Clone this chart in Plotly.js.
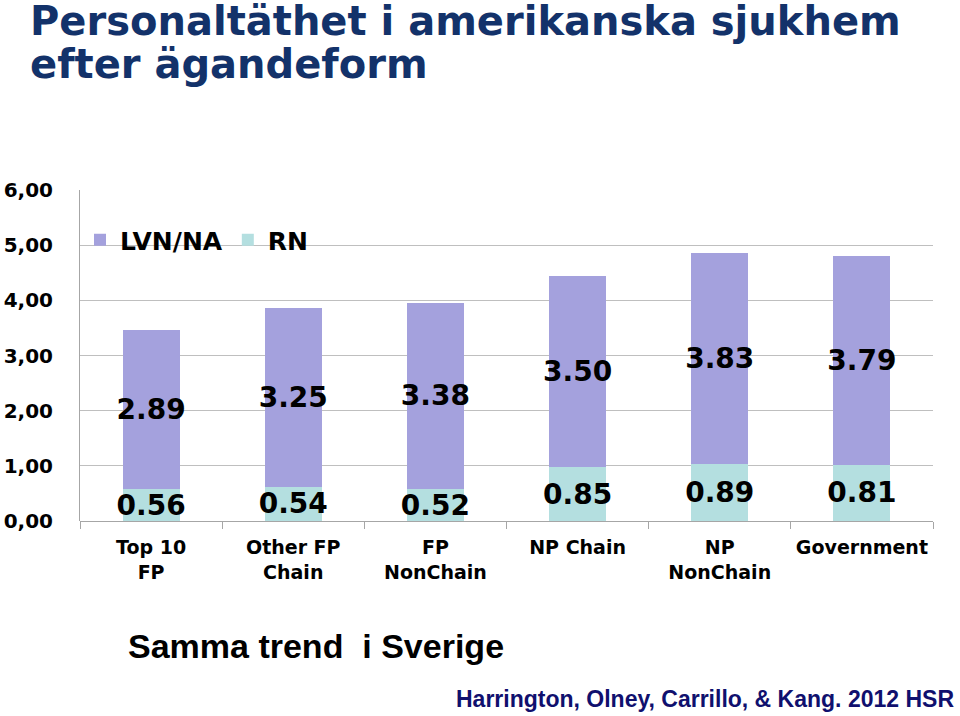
<!DOCTYPE html>
<html>
<head>
<meta charset="utf-8">
<script src="https://cdn.plot.ly/plotly-3.0.1.min.js"></script>
<style>html,body{margin:0;padding:0;background:#fff;}#chart{width:960px;height:716px;}</style>
</head>
<body>
<div id="chart"></div>
<script>
// Data
const categories = ["Top 10<br>FP", "Other FP<br>Chain", "FP<br>NonChain", "NP Chain", "NP<br>NonChain", "Government"];
const rnValues = [0.58, 0.62, 0.58, 0.97, 1.03, 1.02];      // drawn bar heights (RN)
const rnLabels = ["0.56", "0.54", "0.52", "0.85", "0.89", "0.81"];
const lvnValues = [2.89, 3.25, 3.38, 3.47, 3.82, 3.79];     // drawn bar heights (LVN/NA)
const lvnLabels = ["2.89", "3.25", "3.38", "3.50", "3.83", "3.79"];
const yTicks = [0, 1, 2, 3, 4, 5, 6];
const titleLines = ["Personaltäthet i amerikanska sjukhem", "efter ägandeform"];

const F = "DejaVu Sans, Verdana, sans-serif";
const A = "Liberation Sans, Arial, sans-serif";
const labelFont = {family: F, size: 28, color: "#000", weight: "bold"};

// plot area in pixels: x 80..933, y 190..521
const px = x => (x - 80) / 853;
const py = y => (521 - y) / 331;

const traces = [
  {
    type: "bar", name: "RN", x: categories, y: rnValues,
    text: rnLabels, texttemplate: "%{text}",
    textposition: "inside", insidetextanchor: "middle", textangle: 0,
    constraintext: "none", insidetextfont: labelFont,
    marker: {color: "#B4DFE0"}, hoverinfo: "skip"
  },
  {
    type: "bar", name: "LVN/NA", x: categories, y: lvnValues,
    text: lvnLabels, texttemplate: "%{text}",
    textposition: "inside", insidetextanchor: "middle", textangle: 0,
    constraintext: "none", insidetextfont: labelFont,
    marker: {color: "#A4A1DD"}, hoverinfo: "skip"
  }
];

const titleFont = {family: F, size: 40, color: "#13326A", weight: "bold"};

const layout = {
  width: 960, height: 716,
  margin: {l: 80, r: 27, t: 190, b: 195, pad: 0},
  paper_bgcolor: "#fff", plot_bgcolor: "#fff",
  barmode: "stack", bargap: 0.6,
  separators: ", ",
  showlegend: true,
  font: {family: F, color: "#000"},
  legend: {
    orientation: "h", x: 0, xanchor: "left", y: py(240), yanchor: "middle",
    traceorder: "reversed", bgcolor: "rgba(0,0,0,0)",
    font: {family: F, size: 25, color: "#000", weight: "bold"},
    itemclick: false, itemdoubleclick: false
  },
  xaxis: {
    type: "category", tickson: "boundaries", ticks: "outside", ticklen: 7,
    tickcolor: "#A6A6A6", showline: false, showgrid: false, zeroline: false,
    tickfont: {family: F, size: 19, color: "#000", weight: "bold"},
    ticklabelstandoff: 13, fixedrange: true
  },
  yaxis: {
    range: [0, 6], tickvals: yTicks, tickformat: ".2f",
    showgrid: true, gridcolor: "#BFBFBF", gridwidth: 1,
    showline: true, linecolor: "#A6A6A6", linewidth: 1,
    zeroline: true, zerolinecolor: "#A6A6A6", zerolinewidth: 1,
    ticks: "", tickfont: {family: F, size: 20, color: "#000", weight: "bold"},
    ticklabelstandoff: 22, fixedrange: true
  },
  annotations: [
    {
      text: titleLines[0], xref: "paper", yref: "paper",
      x: px(28), y: py(21), xanchor: "left", yanchor: "middle",
      showarrow: false, font: titleFont
    },
    {
      text: titleLines[1], xref: "paper", yref: "paper",
      x: px(28), y: py(64), xanchor: "left", yanchor: "middle",
      showarrow: false, font: titleFont
    },
    {
      text: "Samma trend  i Sverige", xref: "paper", yref: "paper",
      x: px(126), y: py(646), xanchor: "left", yanchor: "middle",
      showarrow: false,
      font: {family: A, size: 34, color: "#000", weight: "bold"}
    },
    {
      text: "Harrington, Olney, Carrillo, &amp; Kang. 2012 HSR", xref: "paper", yref: "paper",
      x: px(956), y: py(699), xanchor: "right", yanchor: "middle",
      showarrow: false,
      font: {family: A, size: 23, color: "#10106E", weight: "bold"}
    }
  ]
};

Plotly.newPlot("chart", traces, layout, {displayModeBar: false, staticPlot: true});
</script>
</body>
</html>
